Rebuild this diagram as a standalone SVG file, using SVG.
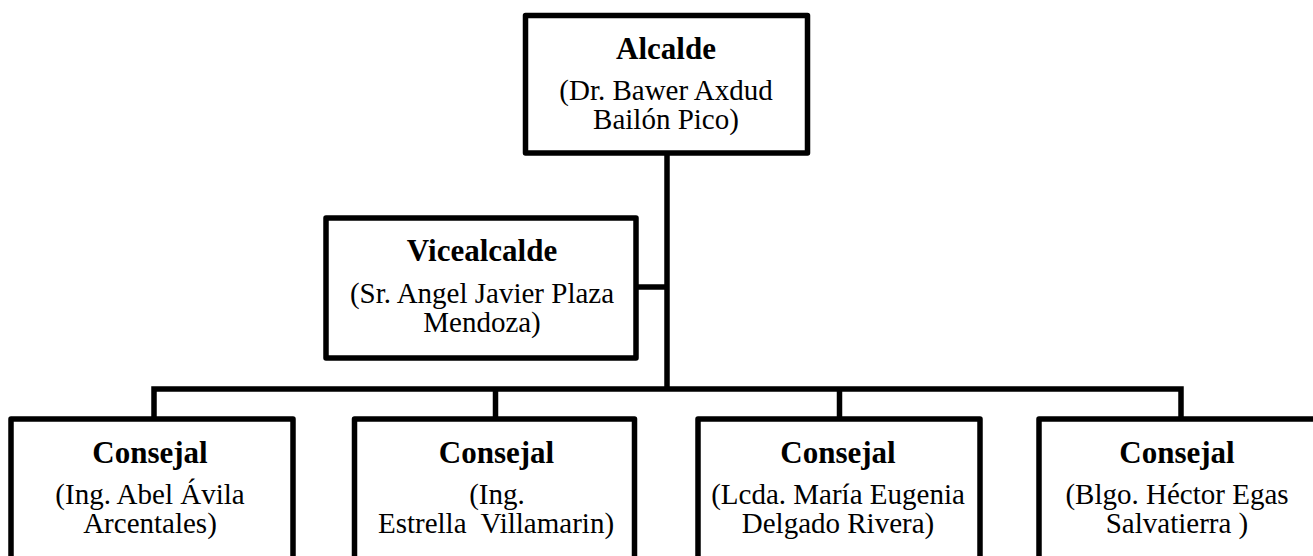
<svg xmlns="http://www.w3.org/2000/svg" width="1313" height="556" viewBox="0 0 1313 556">
<style>
.box{fill:#fff;stroke:#000;stroke-width:5.5;stroke-linejoin:round}
.conn{fill:none;stroke:#000;stroke-width:5.5}
.t{font-family:"Liberation Serif","Times New Roman",serif;text-anchor:middle;fill:#000}
.b{font-size:31px;font-weight:bold}
.r{font-size:29px}
</style>
<rect width="1313" height="556" fill="#fff"/>
<g id="connectors">
<path class="conn" d="M667,153 V389"/>
<path class="conn" d="M636,287 H667"/>
<path class="conn" d="M154,419 V389 H1181 V419"/>
<path class="conn" d="M495.5,389 V419"/>
<path class="conn" d="M839.5,389 V419"/>
</g>
<g id="alcalde">
<rect class="box" x="525.5" y="15.5" width="282" height="137.5"/>
<text class="t b" x="666" y="59">Alcalde</text>
<text class="t r" x="666" y="100">(Dr. Bawer Axdud</text>
<text class="t r" x="666" y="129">Bailón Pico)</text>
</g>
<g id="vicealcalde">
<rect class="box" x="326" y="218" width="310" height="140"/>
<text class="t b" x="482" y="261">Vicealcalde</text>
<text class="t r" x="482" y="303">(Sr. Angel Javier Plaza</text>
<text class="t r" x="482" y="332">Mendoza)</text>
</g>
<g id="consejal1">
<rect class="box" x="11" y="419" width="282" height="170"/>
<text class="t b" x="150" y="463">Consejal</text>
<text class="t r" x="150" y="504">(Ing. Abel Ávila</text>
<text class="t r" x="150" y="533">Arcentales)</text>
</g>
<g id="consejal2">
<rect class="box" x="354.5" y="419" width="280" height="170"/>
<text class="t b" x="496.5" y="463">Consejal</text>
<text class="t r" x="497" y="504">(Ing.</text>
<text class="t r" x="496" y="533" xml:space="preserve" style="white-space:pre">Estrella  Villamarin)</text>
</g>
<g id="consejal3">
<rect class="box" x="698" y="419" width="282" height="170"/>
<text class="t b" x="838" y="463">Consejal</text>
<text class="t r" x="838" y="504">(Lcda. María Eugenia</text>
<text class="t r" x="838" y="533">Delgado Rivera)</text>
</g>
<g id="consejal4">
<rect class="box" x="1039" y="419" width="277" height="170"/>
<text class="t b" x="1177" y="463">Consejal</text>
<text class="t r" x="1177" y="504">(Blgo. Héctor Egas</text>
<text class="t r" x="1177" y="533">Salvatierra )</text>
</g>
</svg>
